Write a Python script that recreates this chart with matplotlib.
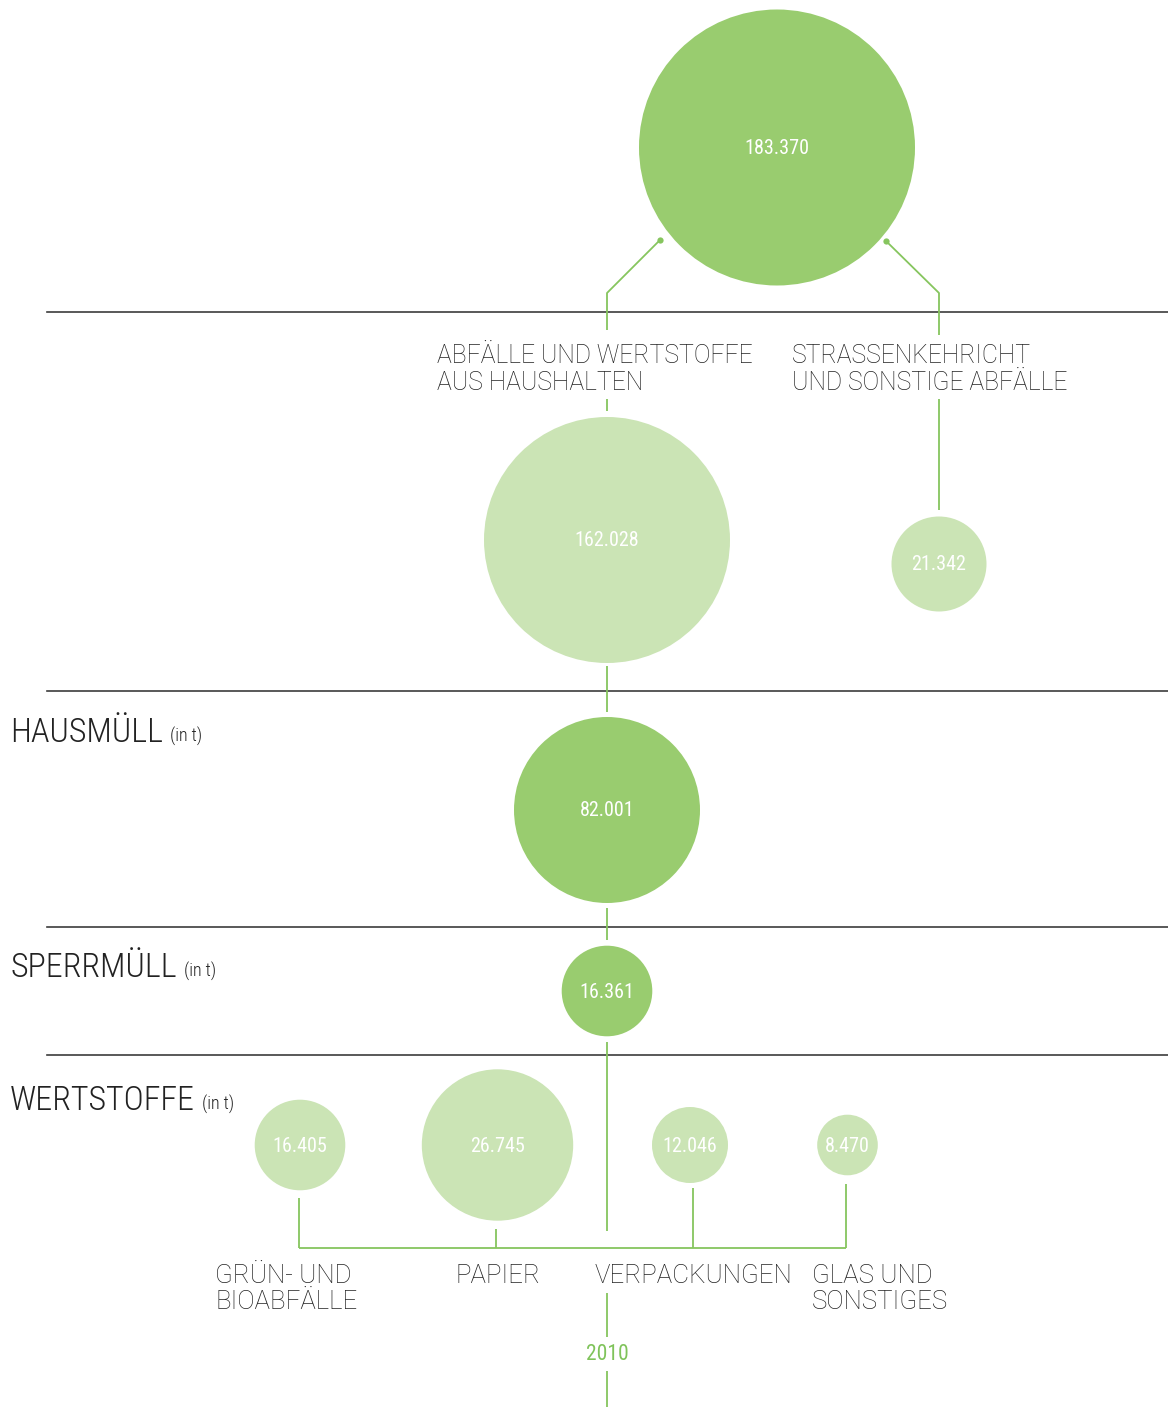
import matplotlib
matplotlib.use("Agg")
import matplotlib.pyplot as plt
from matplotlib.patches import Circle
from matplotlib import font_manager as fm

# ---------------- data ----------------
total_value = 183370
top_categories = ["ABFÄLLE UND WERTSTOFFE\nAUS HAUSHALTEN",
                  "STRASSENKEHRICHT\nUND SONSTIGE ABFÄLLE"]
top_values = [162028, 21342]
section_titles = ["HAUSMÜLL", "SPERRMÜLL", "WERTSTOFFE"]
unit_label = "(in t)"
hausmuell_value = 82001
sperrmuell_value = 16361
wert_categories = ["GRÜN- UND\nBIOABFÄLLE", "PAPIER", "VERPACKUNGEN", "GLAS UND\nSONSTIGES"]
wert_values = [16405, 26745, 12046, 8470]
year_label = "2010"

# ---------------- style / layout ----------------
W, H = 1168, 1407
DARK_GREEN = "#99cc6f"
LIGHT_GREEN = "#cbe4b5"
LINE_GREEN = "#86c55e"
YEAR_GREEN = "#7fc35a"
TEXT = "#222222"
RULE = "#3c3c3c"

names = {f.name for f in fm.fontManager.ttflist}
COND = next((n for n in ["Roboto Condensed", "Liberation Sans Narrow", "DejaVu Sans Condensed"]
             if n in names), "Roboto")
LABEL_FONT = "Roboto" if "Roboto" in names else "DejaVu Sans"


def fmt(v):
    return f"{v:,}".replace(",", ".")


fig = plt.figure(figsize=(W / 100, H / 100), dpi=100)
ax = fig.add_axes([0, 0, 1, 1])
ax.set_xlim(0, W)
ax.set_ylim(H, 0)
ax.set_aspect("equal")
ax.axis("off")

CX = 607  # central spine


def bubble(x, y, r, value, color, fs=14.5):
    ax.add_patch(Circle((x, y), r, facecolor=color, edgecolor="none", zorder=2))
    ax.text(x, y + 1, fmt(value), color="white", ha="center", va="center",
            fontsize=fs, family=COND, weight="normal", zorder=3)


def gline(xs, ys, **kw):
    ax.plot(xs, ys, color=LINE_GREEN, lw=1.3, solid_capstyle="butt", zorder=1, **kw)


# horizontal rules
for y in [311.5, 691, 927, 1055]:
    ax.plot([47, W], [y, y], color=RULE, lw=1.2, zorder=1)

# total bubble
bubble(777, 147.5, 138, total_value, DARK_GREEN)

# connectors from total
gline([660, CX, CX], [240, 293, 330])
gline([886, 939, 939], [241, 293, 335])
ax.plot([660, 886], [240, 241], "o", color=LINE_GREEN, ms=4.5, mec="none", zorder=3)
gline([CX, CX], [399, 411])
gline([939, 939], [399, 510])

# top category labels
for cat, x in zip(top_categories, [437, 792]):
    for i, line in enumerate(cat.split("\n")):
        ax.text(x, 363 + 27 * i, line, color=TEXT, fontsize=17.8, family=LABEL_FONT,
                weight="light", ha="left", va="baseline")

# top category bubbles
bubble(CX, 540, 123, top_values[0], LIGHT_GREEN)
bubble(939, 564, 47.5, top_values[1], LIGHT_GREEN)

# spine
gline([CX, CX], [666, 712])
bubble(CX, 810, 93, hausmuell_value, DARK_GREEN)
gline([CX, CX], [908, 940])
bubble(CX, 991, 45.3, sperrmuell_value, DARK_GREEN)
gline([CX, CX], [1042, 1231])

# section titles with unit
for title, yb in zip(section_titles, [742, 977, 1110]):
    t = ax.text(10, yb, title, color=TEXT, fontsize=24.5, family=COND, weight="light",
                ha="left", va="baseline")
    ax.annotate(unit_label, xy=(1, 0), xycoords=t, xytext=(5, 2), textcoords="offset points",
                color=TEXT, fontsize=13, family=COND, weight="light", ha="left", va="bottom")

# Wertstoffe bubbles
wx = [300, 497.5, 690, 847.5]
wr = [45.3, 75.7, 38, 30.3]
for x, r, v in zip(wx, wr, wert_values):
    bubble(x, 1145, r, v, LIGHT_GREEN)

drop_x = [298.5, 495.5, 692.5, 846]
drop_top = [1198, 1229, 1188, 1184]
for x, yt in zip(drop_x, drop_top):
    gline([x, x], [yt, 1248])
gline([drop_x[0], drop_x[-1]], [1248, 1248])

for cat, x in zip(wert_categories, [215, 455, 595, 812]):
    for i, line in enumerate(cat.split("\n")):
        ax.text(x, 1283 + 26 * i, line, color=TEXT, fontsize=18.6, family=LABEL_FONT,
                weight="light", ha="left", va="baseline")

# year marker
gline([CX, CX], [1293, 1337])
ax.text(CX, 1355, year_label, color=YEAR_GREEN, fontsize=15.5, family=COND,
        weight="normal", ha="center", va="center")
gline([CX, CX], [1371, H])

fig.savefig("out.png", dpi=100, facecolor="white")
